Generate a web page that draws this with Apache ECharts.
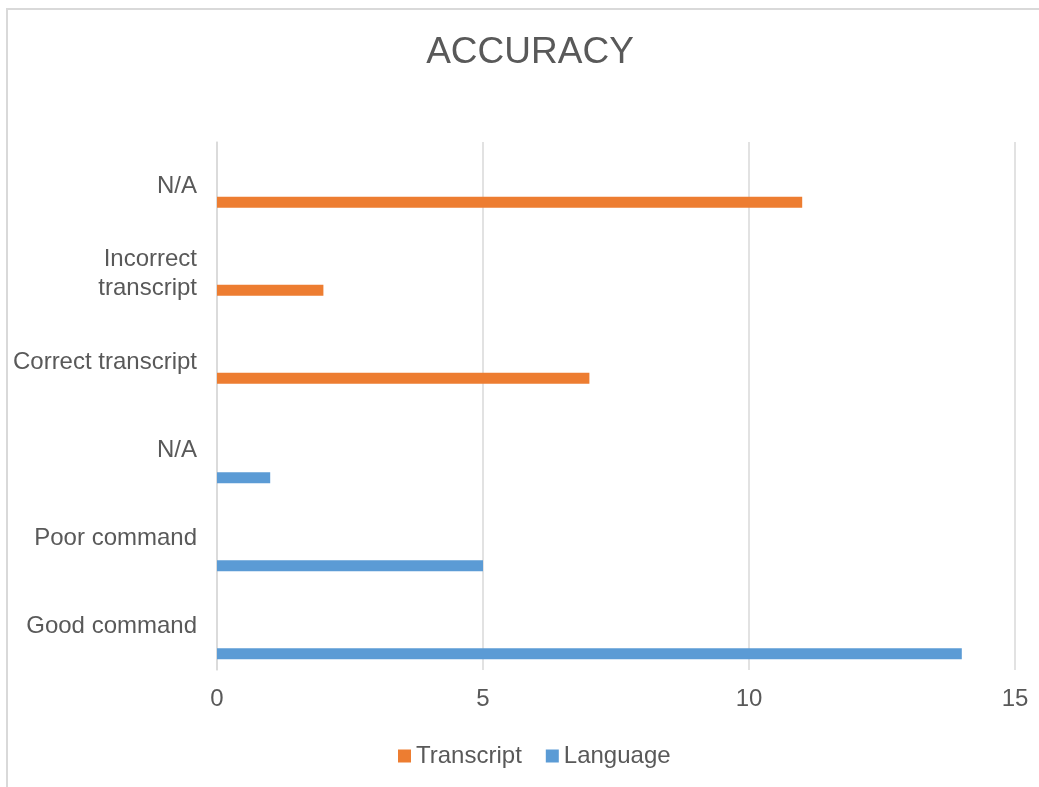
<!DOCTYPE html>
<html>
<head>
<meta charset="utf-8">
<title>ACCURACY</title>
<script src="https://cdn.jsdelivr.net/npm/echarts@6/dist/echarts.min.js"></script>
<style>
  html, body { margin: 0; padding: 0; background: #ffffff; }
  #chart { width: 1039px; height: 787px; }
</style>
</head>
<body>
<div id="chart"></div>
<script>
// Categories listed bottom to top along the vertical axis
const categories = ['Good command', 'Poor command', 'N/A', 'Correct transcript', 'Incorrect\ntranscript', 'N/A'];
const transcriptValues = [0, 0, 0, 7, 2, 11];
const languageValues = [14, 5, 1, 0, 0, 0];
const seriesNames = ['Transcript', 'Language'];
const xTicks = { min: 0, max: 15, interval: 5 };

const textColor = '#595959';
const gridColor = '#d9d9d9';
const fontFamily = '"Liberation Sans", Arial, sans-serif';

const chart = echarts.init(document.getElementById('chart'), null, { renderer: 'canvas' });

chart.setOption({
  backgroundColor: '#ffffff',
  animation: false,
  textStyle: { fontFamily: fontFamily, color: textColor },
  graphic: [{
    type: 'rect',
    shape: { x: 7, y: 9, width: 1100, height: 900 },
    style: { fill: 'none', stroke: gridColor, lineWidth: 2 },
    silent: true,
    z: -1
  }],
  title: {
    text: 'ACCURACY',
    left: 525,
    top: 29,
    textAlign: 'center',
    textStyle: { fontFamily: fontFamily, fontSize: 37, fontWeight: 'normal', color: textColor }
  },
  legend: {
    left: 393,
    top: 739,
    icon: 'rect',
    itemWidth: 13,
    itemHeight: 13,
    itemGap: 24,
    textStyle: { fontFamily: fontFamily, fontSize: 24, color: textColor, padding: [0, 0, 0, 0] },
    data: seriesNames
  },
  grid: [
    // axes, labels and gridlines
    { left: 217, right: 24, top: 142, bottom: 117, containLabel: false },
    // bar layer, its bands sit slightly lower within each category
    { left: 217, right: 24, top: 164, bottom: 95, containLabel: false }
  ],
  xAxis: [
    {
      gridIndex: 0,
      type: 'value',
      min: xTicks.min,
      max: xTicks.max,
      interval: xTicks.interval,
      axisLine: { show: false },
      axisTick: { show: false },
      axisLabel: { fontFamily: fontFamily, fontSize: 24, color: textColor, margin: 17 },
      splitLine: { show: true, lineStyle: { color: gridColor, width: 1.5 } }
    },
    {
      gridIndex: 1,
      type: 'value',
      min: xTicks.min,
      max: xTicks.max,
      interval: xTicks.interval,
      show: false
    }
  ],
  yAxis: [
    {
      gridIndex: 0,
      type: 'category',
      data: categories,
      axisLine: { show: true, lineStyle: { color: gridColor, width: 1.5 } },
      axisTick: { show: false },
      axisLabel: {
        fontFamily: fontFamily, fontSize: 24, color: textColor, margin: 20,
        align: 'right', lineHeight: 29
      },
      splitLine: { show: false }
    },
    {
      gridIndex: 1,
      type: 'category',
      data: categories,
      show: false
    }
  ],
  series: [
    {
      name: seriesNames[0],
      type: 'bar',
      xAxisIndex: 1,
      yAxisIndex: 1,
      data: transcriptValues,
      barWidth: 11,
      barGap: '4%',
      itemStyle: { color: '#ED7D31' }
    },
    {
      name: seriesNames[1],
      type: 'bar',
      xAxisIndex: 1,
      yAxisIndex: 1,
      data: languageValues,
      barWidth: 11,
      barGap: '4%',
      itemStyle: { color: '#5B9BD5' }
    }
  ]
});
</script>
</body>
</html>
